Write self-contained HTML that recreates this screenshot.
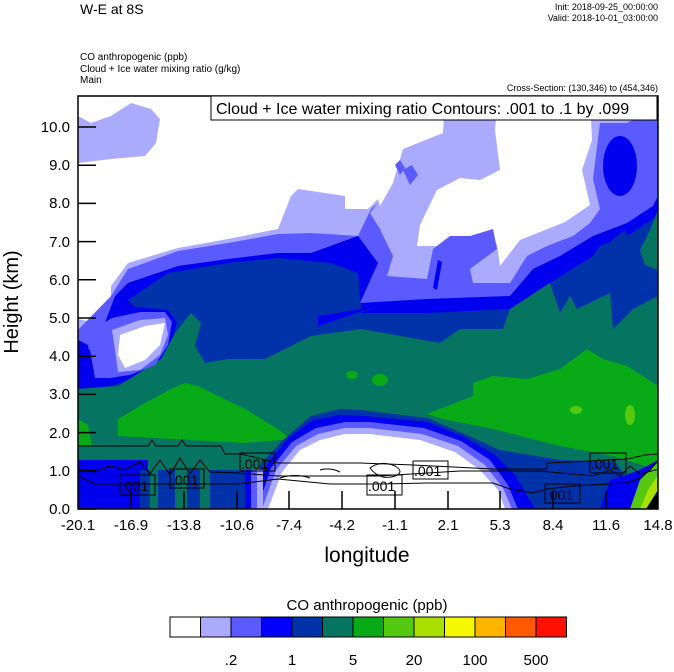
<!DOCTYPE html>
<html><head><meta charset="utf-8"><style>
body{margin:0;background:#fff;width:674px;height:667px;overflow:hidden}
svg text{font-family:"Liberation Sans",Arial,sans-serif}
</style></head><body>
<svg width="674" height="667" viewBox="0 0 674 667" xmlns="http://www.w3.org/2000/svg">
<defs><clipPath id="pc"><rect x="78" y="96" width="580" height="413"/></clipPath></defs>
<g clip-path="url(#pc)">
<rect x="78" y="96" width="580" height="413" fill="#aaaaff"/>
<polygon fill="#fff" points="78,96 445,96 443,133 403,149 393,183 380,206 378,199 368,209 345,209 345,196 298,189 291,196 278,229 228,239 178,248 128,263 111,286 110,326 78,319"/>
<polygon fill="#aaaaff" points="78,116 91,123 111,116 131,103 151,109 160,119 156,143 145,156 111,159 78,163"/>
<polygon fill="#fff" points="498,96 590,96 592,140 582,170 590,205 565,222 540,232 520,240 500,266 497,245 490,232 470,237 455,243 440,246 417,246 420,225 437,190 460,178 480,180 500,170 495,130"/>
<polygon fill="#5a5aff" points="78,330 111,296 128,269 178,251 228,243 278,234 311,233 358,236 371,209 378,203 370,213 380,229 393,256 387,276 427,279 433,249 450,236 470,236 493,229 497,249 470,269 473,283 510,283 527,256 547,246 573,236 590,223 600,209 593,179 600,123 627,123 653,110 658,96 658,509 78,509"/>
<polygon fill="#5a5aff" points="395,165 400,160 405,168 400,175"/><polygon fill="#5a5aff" points="403,170 412,165 418,175 410,185"/>
<polygon fill="#0000ee" points="78,340 100,336 115,296 128,283 178,266 228,259 278,253 311,253 358,236 378,263 360,303 427,299 510,296 533,269 560,256 593,236 627,223 653,206 658,196 658,509 78,509"/>
<ellipse cx="620" cy="166" rx="17" ry="30" fill="#0000ee"/>
<polygon fill="#0000ee" points="438,260 442,262 437,290 433,288"/>
<polygon fill="#0033aa" points="78,389 110,386 130,380 155,370 170,348 177,322 168,310 135,307 128,300 168,273 228,263 278,258 331,263 358,273 361,309 318,316 318,326 378,306 360,313 427,313 510,309 540,289 593,256 600,246 627,236 653,219 658,216 658,509 78,509"/>
<polygon fill="#0033aa" points="612,240 625,230 630,245 620,265 610,262"/>
<polygon fill="#057460" points="78,389 118,386 161,359 175,333 191,313 201,323 195,346 205,363 228,359 265,359 311,336 361,329 440,343 460,329 503,329 510,309 550,283 560,313 570,296 577,309 610,293 613,329 633,309 658,296 658,509 78,509"/>
<polygon fill="#057460" points="640,250 650,230 658,210 658,270 645,265"/>
<polygon fill="#08aa18" points="118,419 145,403 171,389 185,383 198,386 218,396 245,409 278,429 291,439 245,443 118,436"/>
<polygon fill="#08aa18" points="78,419 88,425 92,446 78,446"/>
<polygon fill="#08aa18" points="473,383 493,376 527,379 560,369 587,349 603,359 627,366 658,386 658,470 613,456 560,446 493,429 443,419 427,414 473,396"/>
<ellipse cx="380" cy="380" rx="8" ry="6" fill="#08aa18"/><ellipse cx="352" cy="375" rx="6" ry="4" fill="#08aa18"/>
<ellipse cx="576" cy="410" rx="6" ry="4" fill="#55c810"/><ellipse cx="630" cy="415" rx="5" ry="10" fill="#55c810"/>
<!-- bottom dome -->
<polygon fill="#0033aa" points="248,509 260,465 283,440 311,416 340,409 360,410 427,418 460,432 500,450 560,460 615,462 628,480 645,509"/>
<polygon fill="#0000ee" points="252,509 266,466 288,438 313,420 340,415 365,416 427,422 462,436 495,455 515,475 535,509"/>
<polygon fill="#5a5aff" points="257,509 271,468 292,442 316,428 345,422 370,422 424,428 461,441 490,460 508,485 518,509"/>
<polygon fill="#aaaaff" points="262,509 276,470 296,446 318,434 345,428 370,428 422,434 458,446 485,465 503,488 512,509"/>
<polygon fill="#fff" points="268,509 282,472 300,450 320,440 345,434 370,434 420,440 455,452 480,470 498,490 505,509"/>
<rect x="78" y="460" width="70" height="49" fill="#0000ee"/>
<rect x="140" y="470" width="105" height="39" fill="#0033aa"/>
<rect x="150" y="470" width="8" height="39" fill="#057460"/><rect x="175" y="465" width="12" height="44" fill="#057460"/><rect x="200" y="470" width="10" height="39" fill="#057460"/>
<rect x="245" y="470" width="6" height="39" fill="#0000ee"/><rect x="251" y="470" width="6" height="39" fill="#5a5aff"/><rect x="257" y="470" width="6" height="39" fill="#aaaaff"/>
<!-- left hook -->
<polygon fill="#5a5aff" points="78,330 95,328 112,318 140,312 165,312 172,322 168,345 155,365 130,375 110,378 95,378 90,350 78,345"/>
<polygon fill="#aaaaff" points="112,330 140,320 165,318 168,335 160,355 140,370 118,372 115,350"/>
<polygon fill="#fff" points="120,335 145,326 165,323 160,345 145,360 125,368 118,355"/>
<polygon fill="#0000ee" points="78,340 88,345 92,370 85,382 78,382"/>
<polygon fill="#0000ee" points="600,509 610,480 640,470 658,460 658,509"/>
<polygon fill="#55c810" points="630,509 640,480 652,468 658,460 658,509"/>
<polygon fill="#aae000" points="640,509 648,490 658,475 658,509"/>
<polygon fill="#000" points="646,509 658,490 658,509"/>
<g fill="none" stroke="#000" stroke-width="1">
<polyline points="78,446 148,446 152,440 156,446 178,446 182,440 186,446 190,446 221,446 225,454 241,454 278,463 360,463 413,465 493,469 547,469 547,463 590,461 627,459 645,455 657,454"/>
<polyline points="78,469 95,472 110,466 125,470 140,462 150,474 160,460 170,475 180,458 190,474 200,460 210,472 238,473 278,476 378,476 460,471 540,471 593,476 610,470 620,476 630,466 640,474 659,469"/>
<polyline points="78,476 95,484 238,484 278,479 330,484 378,484 427,483 493,483 510,489 533,493 547,489 573,486 627,483 640,478 650,470 657,462"/>
<path d="M370,468 q10,-8 25,-2 q10,6 0,10 q-15,5 -25,-8z M280,478 q15,-5 30,0 M320,470 q10,-3 20,2"/>
</g>
<g font-size="14" fill="#000">
<rect x="120" y="475" width="35" height="20" fill="none" stroke="#000"/><text x="121" y="491">.001</text>
<rect x="170" y="469" width="34" height="19" fill="none" stroke="#000"/><text x="171" y="485">.001</text>
<rect x="240" y="453" width="35" height="18" fill="none" stroke="#000"/><text x="241" y="469">.001</text>
<rect x="367" y="475" width="35" height="20" fill="none" stroke="#000"/><text x="368" y="491">.001</text>
<rect x="413" y="461" width="35" height="18" fill="none" stroke="#000"/><text x="414" y="476">.001</text>
<rect x="590" y="453" width="36" height="20" fill="none" stroke="#000"/><text x="591" y="469">.001</text>
<rect x="545" y="484" width="35" height="19" fill="none" stroke="#000"/><text x="546" y="500">.001</text>
</g>
</g>
<rect x="78" y="96" width="580" height="413" fill="none" stroke="#000" stroke-width="1.5"/>
<g stroke="#000" stroke-width="1.5">
<line x1="78" y1="509" x2="96" y2="509"/><line x1="78" y1="470.8" x2="96" y2="470.8"/><line x1="78" y1="432.6" x2="96" y2="432.6"/><line x1="78" y1="394.4" x2="96" y2="394.4"/><line x1="78" y1="356.2" x2="96" y2="356.2"/><line x1="78" y1="318" x2="96" y2="318"/><line x1="78" y1="279.8" x2="96" y2="279.8"/><line x1="78" y1="241.6" x2="96" y2="241.6"/><line x1="78" y1="203.4" x2="96" y2="203.4"/><line x1="78" y1="165.2" x2="96" y2="165.2"/><line x1="78" y1="127" x2="96" y2="127"/>
<line x1="131" y1="509" x2="131" y2="491"/><line x1="184" y1="509" x2="184" y2="491"/><line x1="237" y1="509" x2="237" y2="491"/><line x1="289" y1="509" x2="289" y2="491"/><line x1="342" y1="509" x2="342" y2="491"/><line x1="395" y1="509" x2="395" y2="491"/><line x1="448" y1="509" x2="448" y2="491"/><line x1="500" y1="509" x2="500" y2="491"/><line x1="553" y1="509" x2="553" y2="491"/><line x1="606" y1="509" x2="606" y2="491"/>
</g>
<g font-size="15" fill="#000" text-anchor="end">
<text x="70" y="514">0.0</text><text x="70" y="476">1.0</text><text x="70" y="438">2.0</text><text x="70" y="399">3.0</text><text x="70" y="361">4.0</text><text x="70" y="323">5.0</text><text x="70" y="285">6.0</text><text x="70" y="247">7.0</text><text x="70" y="208">8.0</text><text x="70" y="170">9.0</text><text x="70" y="132">10.0</text>
</g>
<g font-size="15" fill="#000" text-anchor="middle">
<text x="78" y="530">-20.1</text><text x="131" y="530">-16.9</text><text x="184" y="530">-13.8</text><text x="237" y="530">-10.6</text><text x="289" y="530">-7.4</text><text x="342" y="530">-4.2</text><text x="395" y="530">-1.1</text><text x="448" y="530">2.1</text><text x="500" y="530">5.3</text><text x="553" y="530">8.4</text><text x="606" y="530">11.6</text><text x="658" y="530">14.8</text>
</g>
<text x="367" y="562" font-size="21" text-anchor="middle">longitude</text>
<text transform="translate(18,302) rotate(-90)" font-size="20" text-anchor="middle">Height (km)</text>
<text x="80" y="14" font-size="14">W-E at 8S</text>
<g font-size="9" text-anchor="end"><text x="658" y="10">Init: 2018-09-25_00:00:00</text><text x="658" y="21">Valid: 2018-10-01_03:00:00</text><text x="658" y="91">Cross-Section: (130,346) to (454,346)</text></g>
<g font-size="10"><text x="80" y="60">CO anthropogenic   (ppb)</text><text x="80" y="72">Cloud + Ice water mixing ratio   (g/kg)</text><text x="80" y="83">Main</text></g>
<rect x="211" y="96" width="446" height="24" fill="#fff" stroke="#000"/>
<text x="216" y="114" font-size="16">Cloud + Ice water mixing ratio Contours: .001 to .1 by .099</text>
<text x="367" y="610" font-size="15" text-anchor="middle">CO anthropogenic  (ppb)</text>
<g stroke="#000" stroke-width="1">
<rect x="170" y="617" width="30.5" height="20" fill="#fff"/><rect x="200.5" y="617" width="30.5" height="20" fill="#aaaaff"/><rect x="231" y="617" width="30.5" height="20" fill="#5a5aff"/><rect x="261.5" y="617" width="30.5" height="20" fill="#0000ff"/><rect x="292" y="617" width="30.5" height="20" fill="#0033aa"/><rect x="322.5" y="617" width="30.5" height="20" fill="#057460"/><rect x="353" y="617" width="30.5" height="20" fill="#08aa18"/><rect x="383.5" y="617" width="30.5" height="20" fill="#55c810"/><rect x="414" y="617" width="30.5" height="20" fill="#aae000"/><rect x="444.5" y="617" width="30.5" height="20" fill="#f4f800"/><rect x="475" y="617" width="30.5" height="20" fill="#ffb400"/><rect x="505.5" y="617" width="30.5" height="20" fill="#ff5a00"/><rect x="536" y="617" width="30.5" height="20" fill="#ff1000"/>
</g>
<g font-size="15" text-anchor="middle"><text x="231" y="665">.2</text><text x="292" y="665">1</text><text x="353" y="665">5</text><text x="414" y="665">20</text><text x="475" y="665">100</text><text x="536" y="665">500</text></g>
</svg>
</body></html>
